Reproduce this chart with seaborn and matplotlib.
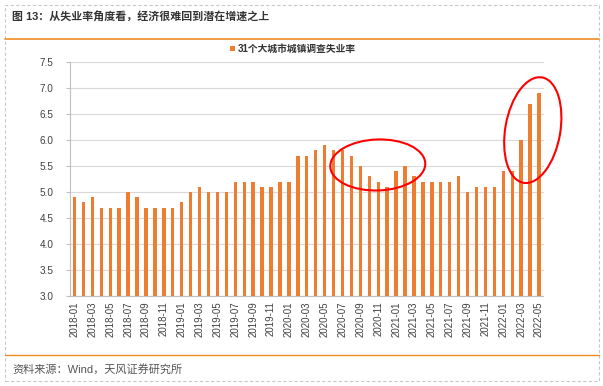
import matplotlib
matplotlib.use('Agg')
import matplotlib.pyplot as plt
import pandas as pd
import seaborn as sns
from matplotlib.patches import Ellipse, Rectangle
from matplotlib.lines import Line2D
from matplotlib.transforms import ScaledTranslation

months = ['2018-%02d' % m for m in range(1, 13)] + \
         ['2019-%02d' % m for m in range(1, 13)] + \
         ['2020-%02d' % m for m in range(1, 13)] + \
         ['2021-%02d' % m for m in range(1, 13)] + \
         ['2022-%02d' % m for m in range(1, 6)]
rate_2018 = [4.9, 4.8, 4.9, 4.7, 4.7, 4.7, 5.0, 4.9, 4.7, 4.7, 4.7, 4.7]
rate_2019 = [4.8, 5.0, 5.1, 5.0, 5.0, 5.0, 5.2, 5.2, 5.2, 5.1, 5.1, 5.2]
rate_2020 = [5.2, 5.7, 5.7, 5.8, 5.9, 5.8, 5.8, 5.7, 5.5, 5.3, 5.2, 5.1]
rate_2021 = [5.4, 5.5, 5.3, 5.2, 5.2, 5.2, 5.2, 5.3, 5.0, 5.1, 5.1, 5.1]
rate_2022 = [5.4, 5.4, 6.0, 6.7, 6.9]
rate = rate_2018 + rate_2019 + rate_2020 + rate_2021 + rate_2022
series_name = '31个大城市城镇调查失业率'
title = '图 13：从失业率角度看，经济很难回到潜在增速之上'
source = '资料来源：Wind，天风证券研究所'
yticks = [3.0, 3.5, 4.0, 4.5, 5.0, 5.5, 6.0, 6.5, 7.0, 7.5]

df = pd.DataFrame({'month': months, 'rate': rate})

sns.set_style('white')
plt.rcParams['font.family'] = ['Liberation Sans', 'Noto Sans CJK SC', 'DejaVu Sans']

fig = plt.figure(figsize=(6.03, 3.86), dpi=100)
ax = fig.add_axes([70 / 603, 1 - 296 / 386, 473.5 / 603, 234 / 386])

orange = '#ED7D31'
grey = '#BFBFBF'
sns.barplot(data=df, x='month', y='rate', color=orange, width=0.38,
            saturation=1, linewidth=0, label=series_name, ax=ax)

ax.set_xlim(-0.5, len(months) - 0.5)
ax.set_ylim(3.0, 7.5)
ax.set_yticks(yticks)
ax.set_yticklabels(['%.1f' % v for v in yticks], fontsize=7.2, color='#404040')
ax.set_xticks(range(0, len(months), 2))
ax.set_xticklabels(months[::2], rotation=90, fontsize=7, color='#404040')
ax.set_xticks([i - 0.5 for i in range(0, len(months) + 1, 2)], minor=True)
ax.tick_params(axis='x', which='major', length=0, pad=4)
ax.tick_params(axis='x', which='minor', length=4, color=grey, width=0.8, direction='out')
ax.tick_params(axis='y', length=3, color=grey, width=0.8, pad=9, left=True)
ax.set_xlabel('')
ax.set_ylabel('')
ax.yaxis.grid(True, color='#D9D9D9', lw=0.8)
ax.set_axisbelow(True)
for s in ['top', 'right']:
    ax.spines[s].set_visible(False)
for s in ['left', 'bottom']:
    ax.spines[s].set_color(grey)
    ax.spines[s].set_linewidth(0.8)

ax.text(-0.5, 1.045, '%', transform=ax.get_yaxis_transform(), ha='right',
        fontsize=7.2, color='#404040')

leg = ax.legend(loc='center', bbox_to_anchor=(293 / 603, 1 - 49 / 386),
                bbox_transform=fig.transFigure, frameon=False, handlelength=0.5,
                handleheight=0.5, handletextpad=0.3, prop={'size': 7, 'weight': 'bold'})
for t in leg.get_texts():
    t.set_color('#333333')

# red rings drawn in inches, centred on data positions
def ring(xi, yv, w, h, ang):
    tr = fig.dpi_scale_trans + ScaledTranslation(xi, yv, ax.transData)
    fig.add_artist(Ellipse((0, 0), w, h, angle=ang, transform=tr, fill=False,
                           ec='#FF0000', lw=1.5))

ring(33.95, 5.52, 0.95, 0.51, 2)
ring(51.3, 6.19, 0.55, 1.07, -10)

# frame, title and source
fig.add_artist(Rectangle((5 / 603, 5 / 386), 594 / 603, 376 / 386, fill=False,
                         ls=(0, (3, 2)), ec='#C8C8C8', lw=0.8, transform=fig.transFigure))
fig.add_artist(Line2D([5 / 603, 599 / 603], [1 - 39 / 386] * 2, color='#F08A24', lw=1.2))
fig.add_artist(Line2D([5 / 603, 599 / 603], [1 - 355 / 386] * 2, color='#F08A24', lw=1.0))
fig.text(12 / 603, 1 - 17 / 386, title, fontsize=7.9, weight='bold', color='#333333', va='center')
fig.text(12 / 603, 1 - 369 / 386, source, fontsize=8, color='#555555', va='center')

fig.savefig('out.png', dpi=100)
